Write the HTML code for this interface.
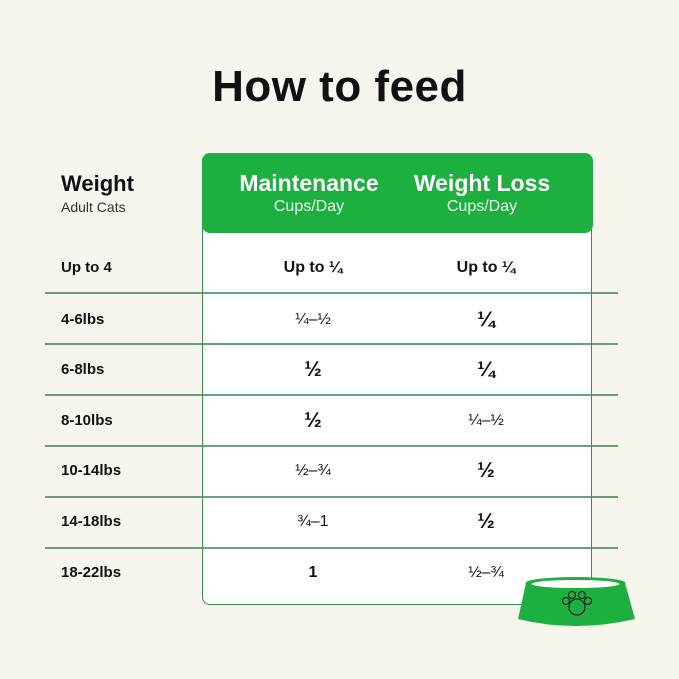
<!DOCTYPE html>
<html><head><style>
html,body{margin:0;padding:0}
body{width:679px;height:679px;background:#f8f5ef;position:relative;overflow:hidden;font-family:"Liberation Sans",sans-serif;color:#111}
.t{position:absolute;white-space:nowrap}
h1{position:absolute;top:62px;left:0;width:679px;text-align:center;margin:0;font-size:44px;font-weight:bold;letter-spacing:0.5px}
.box{position:absolute;left:202px;top:153px;width:390px;height:452px;background:#fff;border:1px solid #3c8a55;border-radius:8px;box-sizing:border-box}
.hdr{position:absolute;left:202px;top:153px;width:391px;height:80px;background:#1db040;border-radius:8px 8px 8px 8px}
.line{position:absolute;left:45px;width:573px;height:1.5px;background:#3f8f59;opacity:.8}
.c{position:absolute;text-align:center;width:180px;font-size:16px;font-weight:bold}
.l{position:absolute;left:61px;font-size:15px;font-weight:bold}
</style></head><body>
<h1>How to feed</h1>
<div class="box"></div>
<div class="hdr"></div>
<div class="t" style="left:61px;top:171px;font-size:22px;font-weight:bold">Weight</div>
<div class="t" style="left:61px;top:199px;font-size:14px;color:#333">Adult Cats</div>
<div class="c" style="left:219px;top:170px;color:#fff;font-size:23px">Maintenance</div>
<div class="c" style="left:219px;top:198px;color:#eafbe9;font-size:16px;font-weight:normal">Cups/Day</div>
<div class="c" style="left:392px;top:170px;color:#fff;font-size:23px">Weight Loss</div>
<div class="c" style="left:392px;top:198px;color:#eafbe9;font-size:16px;font-weight:normal">Cups/Day</div>
<div class="line" style="top:292px"></div>
<div class="line" style="top:343px"></div>
<div class="line" style="top:394px"></div>
<div class="line" style="top:445px"></div>
<div class="line" style="top:496px"></div>
<div class="line" style="top:547px"></div>
<div class="l" style="top:259px">Up to 4</div>
<div class="l" style="top:311px">4-6lbs</div>
<div class="l" style="top:361px">6-8lbs</div>
<div class="l" style="top:412px">8-10lbs</div>
<div class="l" style="top:462px">10-14lbs</div>
<div class="l" style="top:513px">14-18lbs</div>
<div class="l" style="top:564px">18-22lbs</div>
<div class="c" style="left:223px;top:259px">Up to ¼</div>
<div class="c" style="left:396px;top:259px">Up to ¼</div>
<div class="c" style="left:223px;top:311px;font-weight:normal">¼–½</div>
<div class="c" style="left:396px;top:308px;font-size:21px">¼</div>
<div class="c" style="left:223px;top:358px;font-size:21px">½</div>
<div class="c" style="left:396px;top:358px;font-size:21px">¼</div>
<div class="c" style="left:223px;top:409px;font-size:21px">½</div>
<div class="c" style="left:396px;top:412px;font-weight:normal">¼–½</div>
<div class="c" style="left:223px;top:462px;font-weight:normal">½–¾</div>
<div class="c" style="left:396px;top:459px;font-size:21px">½</div>
<div class="c" style="left:223px;top:513px;font-weight:normal">¾–1</div>
<div class="c" style="left:396px;top:510px;font-size:21px">½</div>
<div class="c" style="left:223px;top:564px">1</div>
<div class="c" style="left:396px;top:564px;font-weight:normal">½–¾</div>
<svg style="position:absolute;left:515px;top:575px" width="125" height="55" viewBox="0 0 125 55">
<path d="M11,8 L3,44 Q60,58 120,44 L110,8 Z" fill="#1db040"/>
<ellipse cx="60.5" cy="8" rx="50" ry="6" fill="#1db040"/>
<ellipse cx="60.5" cy="9" rx="44" ry="4" fill="#fff"/>
<g fill="none" stroke="#111" stroke-width="1">
<circle cx="62" cy="32" r="8"/><circle cx="51" cy="26" r="3.5"/><circle cx="57" cy="20" r="3.5"/><circle cx="67" cy="20" r="3.5"/><circle cx="73" cy="26" r="3.5"/>
</g></svg>
</body></html>
